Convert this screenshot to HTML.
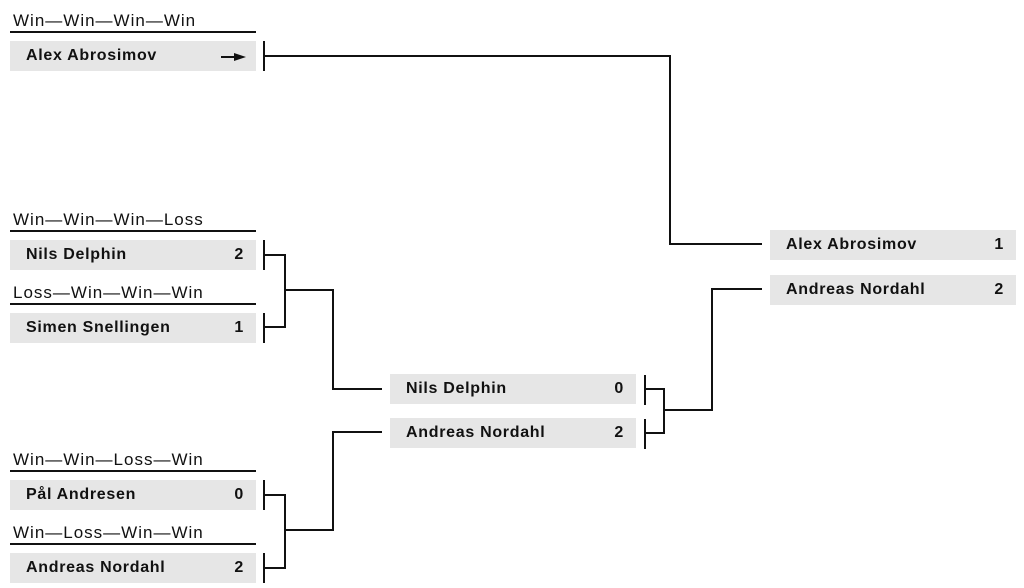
<!DOCTYPE html>
<html><head><style>
body{margin:0;width:1024px;height:588px;background:#fff;position:relative;font-family:"Liberation Sans",sans-serif;overflow:hidden}
.b{position:absolute;width:246px;height:30px;background:#e6e6e6;font-weight:bold;font-size:16px;letter-spacing:0.7px;line-height:30px;color:#111}
.b .n{position:absolute;left:16px}
.b .s{position:absolute;right:12px}
.l{position:absolute;left:10px;width:246px;border-bottom:2px solid #111;font-size:17px;letter-spacing:1px;height:22px;line-height:20px;color:#111;padding-left:3px;box-sizing:border-box;white-space:nowrap}
svg{position:absolute;left:0;top:0}
</style></head><body>
<div class="l" style="top:11px">Win—Win—Win—Win</div>
<div class="b" style="left:10px;top:41px"><span class="n">Alex Abrosimov</span></div>
<div class="l" style="top:210px">Win—Win—Win—Loss</div>
<div class="b" style="left:10px;top:240px"><span class="n">Nils Delphin</span><span class="s">2</span></div>
<div class="l" style="top:283px">Loss—Win—Win—Win</div>
<div class="b" style="left:10px;top:313px"><span class="n">Simen Snellingen</span><span class="s">1</span></div>
<div class="l" style="top:450px">Win—Win—Loss—Win</div>
<div class="b" style="left:10px;top:480px"><span class="n">Pål Andresen</span><span class="s">0</span></div>
<div class="l" style="top:523px">Win—Loss—Win—Win</div>
<div class="b" style="left:10px;top:553px"><span class="n">Andreas Nordahl</span><span class="s">2</span></div>
<div class="b" style="left:390px;top:374px"><span class="n">Nils Delphin</span><span class="s">0</span></div>
<div class="b" style="left:390px;top:418px"><span class="n">Andreas Nordahl</span><span class="s">2</span></div>
<div class="b" style="left:770px;top:230px"><span class="n">Alex Abrosimov</span><span class="s">1</span></div>
<div class="b" style="left:770px;top:275px"><span class="n">Andreas Nordahl</span><span class="s">2</span></div>
<svg width="1024" height="588" fill="none" stroke="#111" stroke-width="2">
<path d="M221 57H236"/>
<path d="M234 53L246 57L234 61Z" fill="#111" stroke="none"/>
<path d="M264 41V71M264 56H670V244H762"/>
<path d="M264 240V270M264 313V343M264 255H285V327H264M285 290H333V389H382"/>
<path d="M264 480V510M264 553V583M264 495H285V568H264M285 530H333V432H382"/>
<path d="M645 375V405M645 419V449M645 389H664V433H645M664 410H712V289H762"/>
</svg>
</body></html>
